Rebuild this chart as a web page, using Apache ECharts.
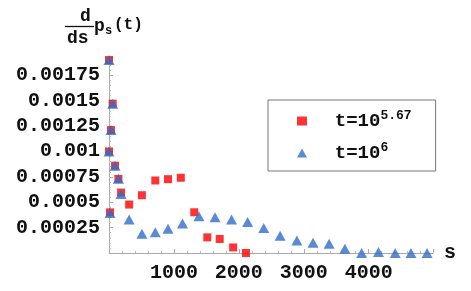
<!DOCTYPE html>
<html><head><meta charset="utf-8">
<script src="https://cdn.jsdelivr.net/npm/echarts@6/dist/echarts.min.js"></script>
<style>html,body{margin:0;padding:0;background:#fff}#c{width:471px;height:291px}</style>
</head><body><div id="c"></div>
<script>
var redS = [0, 57, 31, 0, 93, 145, 186, 15, 310, 507, 713, 909, 1106, 1313, 1514, 1705, 1912, 2109];
var redV = [0.0019, 0.00147, 0.00121, 0.001, 0.00086, 0.00073, 0.000595, 0.0004, 0.000477, 0.000569, 0.000714, 0.000727, 0.000741, 0.000401, 0.000154, 0.000138, 0.000055, 0.0];
var blueS = [0, 57, 31, 0, 93, 145, 186, 15, 310, 507, 713, 909, 1132, 1385, 1633, 1887, 2135, 2383, 2636, 2894, 3142, 3390, 3633, 3891, 4150, 4408, 4651, 4899];
var blueV = [0.0019, 0.00147, 0.00121, 0.001, 0.00086, 0.00073, 0.00058, 0.000395, 0.000329, 0.00019, 0.000204, 0.00024, 0.00029, 0.000362, 0.000352, 0.000329, 0.000306, 0.000247, 0.000171, 0.000122, 0.000102, 0.000092, 0.000042, 0, 0.00001, 0, 0, 0];
var xTicks = ['1000', '2000', '3000', '4000'];
var yTicks = ['0.00025', '0.0005', '0.00075', '0.001', '0.00125', '0.0015', '0.00175'];
var seriesNames = ['t=10^5.67', 't=10^6'];

function pairs(a, b) { return a.map(function (v, i) { return [v, b[i]]; }); }
var FONT = '"Liberation Mono", "DejaVu Sans Mono", monospace';
var chart = echarts.init(document.getElementById('c'), null, { renderer: 'canvas' });
chart.setOption({
  animation: false,
  backgroundColor: '#fff',
  grid: { left: 109, right: 38, top: 57, bottom: 38 },
  xAxis: {
    type: 'value', min: 0, max: 4990, interval: 1000, offset: 2,
    name: 's', nameLocation: 'end', nameGap: 11,
    nameTextStyle: { fontFamily: FONT, fontWeight: 'bold', fontSize: 20, color: '#111', verticalAlign: 'middle' },
    axisLine: { lineStyle: { color: '#aaa', width: 1 } },
    axisTick: { show: true, inside: true, length: 4, lineStyle: { color: '#aaa' } },
    minorTick: { show: true, splitNumber: 5, length: 2, lineStyle: { color: '#bbb' } },
    splitLine: { show: false },
    axisLabel: { margin: 8, fontFamily: FONT, fontWeight: 'bold', fontSize: 20, color: '#111',
      formatter: function (v) { var s = String(v); return xTicks.indexOf(s) >= 0 ? s : ''; } }
  },
  yAxis: {
    type: 'value', min: 0, max: 0.00193, interval: 0.00025,
    axisLine: { show: true, lineStyle: { color: '#aaa', width: 1 } },
    axisTick: { show: true, inside: true, length: 4, lineStyle: { color: '#aaa' } },
    minorTick: { show: true, splitNumber: 5, length: 2, lineStyle: { color: '#bbb' } },
    splitLine: { show: false },
    axisLabel: { margin: 9, fontFamily: FONT, fontWeight: 'bold', fontSize: 20, color: '#111',
      formatter: function (v) { var s = String(+(+v).toFixed(5)); return yTicks.indexOf(s) >= 0 ? s : ''; } }
  },
  legend: {
    left: 268, top: 100, orient: 'vertical',
    backgroundColor: '#fff', borderColor: '#777', borderWidth: 1,
    padding: [9, 24, 8, 29], itemGap: 10, itemWidth: 10, itemHeight: 9,
    data: [
      { name: seriesNames[0], icon: 'rect', itemStyle: { color: '#ff0000' } },
      { name: seriesNames[1], icon: 'triangle' }
    ],
    formatter: function (n) {
      var p = n.split('^');
      return '  {m|' + p[0] + '}{s|' + p[1] + '}';
    },
    textStyle: {
      fontFamily: FONT, fontWeight: 'bold', fontSize: 19, color: '#111', lineHeight: 20,
      rich: {
        m: { fontFamily: FONT, fontWeight: 'bold', fontSize: 19, color: '#111', verticalAlign: 'bottom', lineHeight: 20 },
        s: { fontFamily: FONT, fontWeight: 'bold', fontSize: 13, color: '#111', verticalAlign: 'bottom', lineHeight: 13, padding: [0, 0, 9, 0] }
      }
    }
  },
  series: [
    { name: seriesNames[0], type: 'scatter', symbol: 'rect', symbolSize: 8,
      itemStyle: { color: '#ff0000' }, data: pairs(redS, redV), z: 2 },
    { name: seriesNames[1], type: 'scatter', symbol: 'triangle', symbolSize: [11, 10],
      itemStyle: { color: '#2f6dc8' }, data: pairs(blueS, blueV), z: 3 }
  ],
  graphic: [
    { type: 'text', left: 80, top: 7, style: { text: 'd', font: 'bold 18px ' + FONT, fill: '#111' } },
    { type: 'line', shape: { x1: 65, y1: 26.5, x2: 94, y2: 26.5 }, style: { stroke: '#111', lineWidth: 1.3 } },
    { type: 'text', left: 67, top: 29, style: { text: 'ds', font: 'bold 18px ' + FONT, fill: '#111' } },
    { type: 'text', left: 94, top: 17, style: { text: 'p', font: 'bold 18px ' + FONT, fill: '#111' } },
    { type: 'text', left: 105, top: 25, style: { text: 's', font: 'bold 12px ' + FONT, fill: '#111' } },
    { type: 'text', left: 114, top: 17, style: { text: '(t)', font: 'bold 16px ' + FONT, fill: '#111' } }
  ]
});
</script></body></html>
